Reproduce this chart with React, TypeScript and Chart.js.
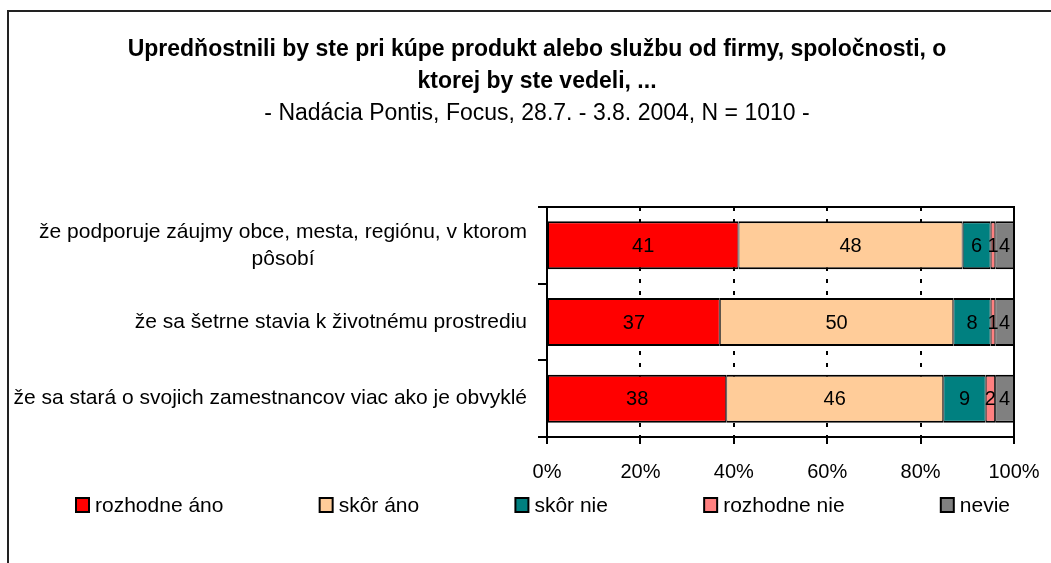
import React, { useEffect, useRef } from "react";
import { Chart, registerables } from "chart.js";

Chart.register(...registerables);

const titleLines = [
  "Upredňostnili by ste pri kúpe produkt alebo službu od firmy, spoločnosti, o",
  "ktorej by ste vedeli, ...",
];
const subtitle = "- Nadácia Pontis, Focus, 28.7. - 3.8. 2004, N = 1010 -";

const categories = [
  ["že podporuje záujmy obce, mesta, regiónu, v ktorom", "pôsobí"],
  ["že sa šetrne stavia k životnému prostrediu"],
  ["že sa stará o svojich zamestnancov viac ako je obvyklé"],
];

const seriesNames = ["rozhodne áno", "skôr áno", "skôr nie", "rozhodne nie", "nevie"];
const seriesColors = ["#FF0000", "#FFCC99", "#008080", "#FF8080", "#808080"];

const rozhodneAno = [41, 37, 38];
const skorAno = [48, 50, 46];
const skorNie = [6, 8, 9];
const rozhodneNie = [1, 1, 2];
const nevie = [4, 4, 4];

const xTicks = [0, 20, 40, 60, 80, 100];

const FONT = '"Liberation Sans", Arial, sans-serif';

const rawSeries = [rozhodneAno, skorAno, skorNie, rozhodneNie, nevie];
const rowSums = categories.map((_, i) => rawSeries.reduce((s, arr) => s + arr[i], 0));

const decorPlugin = {
  id: "decor",
  beforeDraw(chart: any) {
    const ctx = chart.ctx;
    ctx.save();
    ctx.fillStyle = "#fff";
    ctx.fillRect(0, 0, chart.width, chart.height);
    ctx.restore();
  },
  afterDatasetsDraw(chart: any) {
    const ctx = chart.ctx;
    const area = chart.chartArea;
    const xs = chart.scales.x;
    const ys = chart.scales.y;
    ctx.save();
    // plot area top/right border
    ctx.strokeStyle = "#000";
    ctx.lineWidth = 2;
    ctx.beginPath();
    ctx.moveTo(area.left, area.top);
    ctx.lineTo(area.right, area.top);
    ctx.lineTo(area.right, area.bottom);
    ctx.stroke();

    // data labels
    ctx.fillStyle = "#000";
    ctx.font = `20px ${FONT}`;
    ctx.textAlign = "center";
    ctx.textBaseline = "middle";
    chart.data.datasets.forEach((ds: any, di: number) => {
      const meta = chart.getDatasetMeta(di);
      meta.data.forEach((el: any, i: number) => {
        const cx = (el.x + el.base) / 2;
        ctx.fillText(String(ds.rawValues[i]), cx, el.y + 1);
      });
    });

    // category labels
    ctx.font = `21px ${FONT}`;
    ctx.textBaseline = "middle";
    ctx.textAlign = "center";
    const rightEdge = xs.left - 20;
    const lh = 27;
    categories.forEach((lines, i) => {
      const cy = ys.getPixelForValue(i);
      const maxW = Math.max(...lines.map((l) => ctx.measureText(l).width));
      const cx = rightEdge - maxW / 2;
      const y0 = cy - ((lines.length - 1) * lh) / 2;
      lines.forEach((l, k) => ctx.fillText(l, cx, y0 + k * lh));
    });
    ctx.restore();
  },
  afterDraw(chart: any) {
    const ctx = chart.ctx;
    ctx.save();
    // outer frame
    ctx.strokeStyle = "#222";
    ctx.lineWidth = 2;
    ctx.strokeRect(8, 11, chart.width + 20, chart.height + 20);

    // title
    const cx = 537;
    ctx.fillStyle = "#000";
    ctx.textAlign = "center";
    ctx.textBaseline = "middle";
    ctx.font = `bold 23px ${FONT}`;
    titleLines.forEach((t, k) => ctx.fillText(t, cx, 50 + k * 32));
    ctx.font = `23px ${FONT}`;
    ctx.fillText(subtitle, cx, 114);

    // legend
    ctx.font = `21px ${FONT}`;
    const box = 13;
    const gapText = 6;
    const left = 76;
    const right = 1010;
    const widths = seriesNames.map((n) => box + gapText + ctx.measureText(n).width);
    const total = widths.reduce((a, b) => a + b, 0);
    const gap = (right - left - total) / (seriesNames.length - 1);
    let x = left;
    const ly = 505;
    ctx.textAlign = "left";
    seriesNames.forEach((n, i) => {
      ctx.fillStyle = seriesColors[i];
      ctx.fillRect(x, ly - 7, box, 14);
      ctx.strokeStyle = "#000";
      ctx.lineWidth = 2;
      ctx.strokeRect(x, ly - 7, box, 14);
      ctx.fillStyle = "#000";
      ctx.fillText(n, x + box + gapText, ly + 1);
      x += widths[i] + gap;
    });
    ctx.restore();
  },
};

export default function App() {
  const ref = useRef<HTMLCanvasElement | null>(null);
  useEffect(() => {
    if (!ref.current) return;
    const chart = new Chart(ref.current, {
      type: "bar",
      data: {
        labels: categories.map((c) => c.join(" ")),
        datasets: seriesNames.map((name, si) => ({
          label: name,
          data: rawSeries[si].map((v, i) => (v / rowSums[i]) * 100),
          rawValues: rawSeries[si],
          backgroundColor: seriesColors[si],
          borderColor: "#000",
          borderWidth: { top: 2, bottom: 2, left: 1, right: 1 },
          borderSkipped: false,
          barPercentage: 0.626,
          categoryPercentage: 1,
        })) as any,
      },
      options: {
        indexAxis: "y",
        responsive: false,
        animation: false,
        layout: { padding: { left: 538, top: 207, right: 37, bottom: 63 } },
        plugins: {
          legend: { display: false },
          title: { display: false },
          tooltip: { enabled: false },
        },
        scales: {
          x: {
            stacked: true,
            min: 0,
            max: 100,
            afterBuildTicks: (scale: any) => {
              scale.ticks = xTicks.map((v) => ({ value: v }));
            },
            ticks: {
              color: "#000",
              font: { family: FONT, size: 20, lineHeight: 2 },
              padding: 8,
              callback: (v: any) => `${v}%`,
            },
            grid: {
              color: (c: any) =>
                c.tick && (c.tick.value === 0 || c.tick.value === 100) ? "rgba(0,0,0,0)" : "#000",
              tickColor: "#000",
              lineWidth: 2,
              tickWidth: 2,
              tickLength: 7,
            },
            border: { display: true, color: "#000", width: 2, dash: [4, 8] },
          },
          y: {
            stacked: true,
            ticks: { display: false },
            grid: {
              drawOnChartArea: false,
              color: "#000",
              tickColor: "#000",
              lineWidth: 2,
              tickLength: 9,
              offset: true,
            },
            border: { display: true, color: "#000", width: 2 },
          },
        },
      },
      plugins: [decorPlugin],
    });
    return () => chart.destroy();
  }, []);
  return (
    <div style={{ position: "absolute", left: 0, top: 0, width: 1051, height: 563 }}>
      <canvas ref={ref} width={1051} height={563} style={{ display: "block" }} />
    </div>
  );
}
